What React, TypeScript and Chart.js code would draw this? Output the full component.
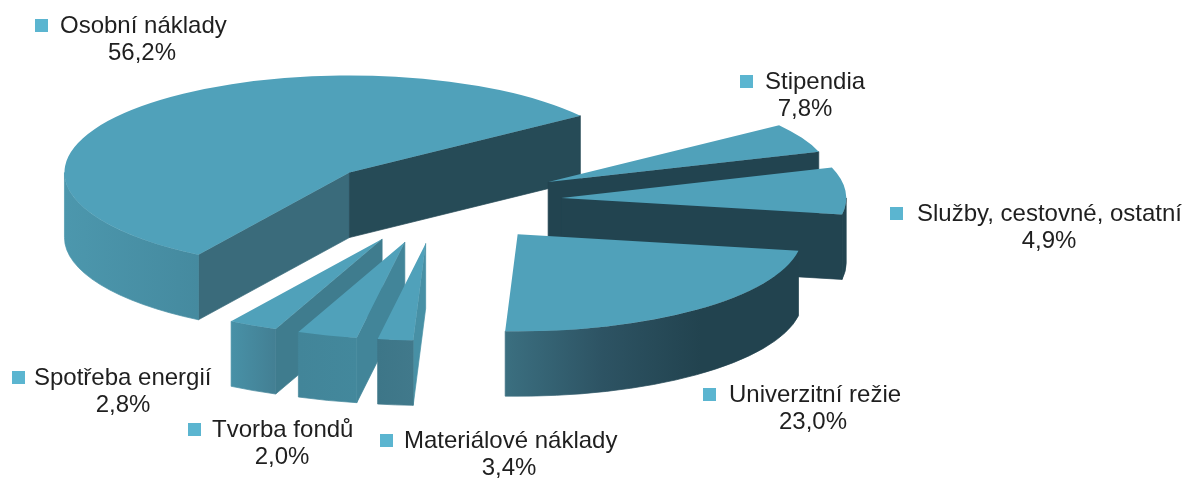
import React, { useEffect, useRef } from "react";
import { Chart, registerables } from "chart.js";

Chart.register(...registerables);

const categories = [
  "Osobní náklady",
  "Služby, cestovné, ostatní",
  "Stipendia",
  "Univerzitní režie",
  "Tvorba fondů",
  "Materiálové náklady",
  "Spotřeba energií",
];
const shares = [56.2, 4.9, 7.8, 23.0, 2.0, 3.4, 2.8];

// Label placement: left edge of key, vertical centre of first line, centre of text block
const labelPlaces = [
  { key: 35, text: 60, y: 26, mid: 142 },
  { key: 890, text: 917, y: 214, mid: 1049 },
  { key: 740, text: 765, y: 82, mid: 805 },
  { key: 703, text: 729, y: 395, mid: 813 },
  { key: 188, text: 212, y: 430, mid: 282 },
  { key: 380, text: 404, y: 441, mid: 509 },
  { key: 12, text: 34, y: 378, mid: 123 },
];

const TOP = "#50A1BA";
const KEY = "#5BB5D0";
const SQUASH = 97 / 285;
const DEPTH = 65;
const DRAW_ORDER = [0, 1, 2, 6, 5, 4, 3];
const explode = [0.43, 0.43, 0.43, 0.44, 0.44, 0.44, 0.44];

// wall shades per slice: rim gradient (left to right), wall at start edge, wall at end edge
const walls = [
  { rim: ["#4C97AD", "#458A9F"], start: "#3A6B7B", end: "#264B57" },
  { rim: ["#224450", "#224450"], start: "#224450", end: "#224450" },
  { rim: ["#224450", "#224450"], start: "#224450", end: "#224450" },
  { rim: ["#3B6F80", "#2D5363", "#22434F", "#22434F"], start: "#224450", end: "#224450" },
  { rim: ["#3D7688", "#41798B"], start: "#4790A5", end: "#4790A5" },
  { rim: ["#428599", "#43889C"], start: "#428599", end: "#428599" },
  { rim: ["#4891A7", "#437F93"], start: "#3F7C8E", end: "#3F7C8E" },
];

const pie3d = {
  id: "pie3d",
  beforeDatasetDraw(chart: any, args: any) {
    const ctx: CanvasRenderingContext2D = chart.ctx;
    const arcs = args.meta.data;
    for (const i of DRAW_ORDER) {
      const el = arcs[i];
      const { x, y, startAngle: a, endAngle: b, outerRadius: R } = el;
      const off = explode[i] * R;
      const mid = (a + b) / 2;
      const dx = Math.cos(mid) * off;
      const dy = Math.sin(mid) * off;
      const cx = x + dx;
      const cy = y + dy * SQUASH;
      const Ry = R * SQUASH;
      const shade = walls[i];
      ctx.lineWidth = 0.7;

      const radial = (ang: number, color: string) => {
        const rx = cx + Math.cos(ang) * R;
        const ry = cy + Math.sin(ang) * Ry;
        ctx.beginPath();
        ctx.moveTo(cx, cy);
        ctx.lineTo(rx, ry);
        ctx.lineTo(rx, ry + DEPTH);
        ctx.lineTo(cx, cy + DEPTH);
        ctx.closePath();
        ctx.fillStyle = color;
        ctx.strokeStyle = color;
        ctx.fill();
        ctx.stroke();
      };
      if (Math.sin(a - Math.PI / 2) > 0) radial(a, shade.start);
      if (Math.sin(b + Math.PI / 2) > 0) radial(b, shade.end);

      for (const base of [0, 2 * Math.PI]) {
        const lo = Math.max(a, base);
        const hi = Math.min(b, base + Math.PI);
        if (hi <= lo) continue;
        const x0 = cx + Math.cos(hi) * R;
        const x1 = cx + Math.cos(lo) * R;
        const g = ctx.createLinearGradient(Math.min(x0, x1), 0, Math.max(x0, x1), 0);
        const n = shade.rim.length - 1;
        shade.rim.forEach((c, k) => g.addColorStop(k / n, c));
        ctx.beginPath();
        ctx.ellipse(cx, cy, R, Ry, 0, lo, hi);
        ctx.ellipse(cx, cy + DEPTH, R, Ry, 0, hi, lo, true);
        ctx.closePath();
        ctx.fillStyle = g;
        ctx.strokeStyle = g;
        ctx.fill();
        ctx.stroke();
      }

      ctx.save();
      ctx.translate(0, y);
      ctx.scale(1, SQUASH);
      ctx.translate(dx, dy - y);
      el.draw(ctx);
      ctx.restore();
    }
    return false;
  },
  afterDraw(chart: any) {
    const ctx: CanvasRenderingContext2D = chart.ctx;
    ctx.save();
    ctx.font = '24px "Liberation Sans", Arial, sans-serif';
    ctx.textBaseline = "middle";
    categories.forEach((name, i) => {
      const p = labelPlaces[i];
      ctx.fillStyle = KEY;
      ctx.fillRect(p.key, p.y - 7, 13, 13);
      ctx.fillStyle = "#1F1F1F";
      ctx.textAlign = "left";
      ctx.fillText(name, p.text, p.y);
      ctx.textAlign = "center";
      ctx.fillText(shares[i].toFixed(1).replace(".", ",") + "%", p.mid, p.y + 27);
    });
    ctx.restore();
  },
};

export default function App() {
  const ref = useRef<HTMLCanvasElement>(null);
  useEffect(() => {
    document.body.style.margin = "0";
    const chart = new Chart(ref.current!, {
      type: "pie",
      data: {
        labels: categories,
        datasets: [
          {
            data: shares,
            backgroundColor: TOP,
            borderWidth: 0,
            radius: 285,
          } as any,
        ],
      },
      options: {
        responsive: false,
        animation: false,
        events: [],
        rotation: 212,
        layout: { padding: { left: 0, top: 0, right: 311, bottom: 79 } },
        plugins: { legend: { display: false }, tooltip: { enabled: false } },
      },
      plugins: [pie3d],
    } as any);
    return () => chart.destroy();
  }, []);
  return <canvas ref={ref} width={1189} height={481} style={{ display: "block" }} />;
}
